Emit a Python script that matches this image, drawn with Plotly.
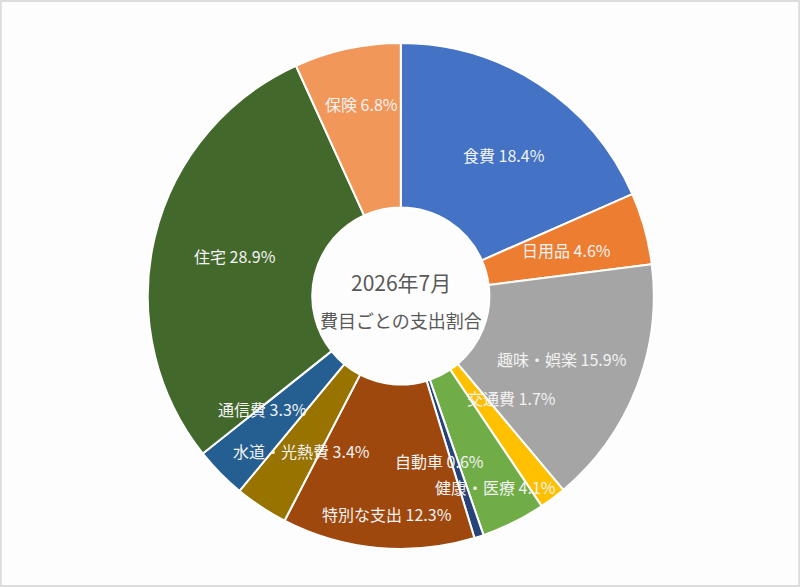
import math
import plotly.graph_objects as go

# 2026年7月 費目ごとの支出割合 (%)
categories = ["食費", "日用品", "趣味・娯楽", "交通費", "健康・医療", "自動車",
              "特別な支出", "水道・光熱費", "通信費", "住宅", "保険"]
shares = [18.4, 4.6, 15.9, 1.7, 4.1, 0.6, 12.3, 3.4, 3.3, 28.9, 6.8]
colors = ["#4472C4", "#ED7D31", "#A5A5A5", "#FFC000", "#70AD47", "#264478",
          "#9E480E", "#997300", "#255E91", "#43682B", "#F1975A"]

title_month = "2026年7月"
title_sub = "費目ごとの支出割合"

# label placement (distance from centre in px, angle nudge in degrees)
label_radius = [175, 172, 173, 151, 213, 170, 218, 184, 178, 171, 196]
label_nudge = [3, 0, 0, -10.5, 0, 4.7, -1.5, -0.7, 5.2, 0, 0.7]

FONT = "Noto Sans CJK JP"
W, H = 800, 587
TOP, BOTTOM = 43, 549  # pie outer edge in px

fig = go.Figure(go.Pie(
    labels=categories,
    values=shares,
    sort=False,
    direction="clockwise",
    hole=0.35,
    marker=dict(colors=colors, line=dict(color="white", width=2)),
    textinfo="none",
    domain=dict(x=[0.002, 1], y=[1 - BOTTOM / H, 1 - TOP / H]),
    hoverinfo="label+percent",
    showlegend=False,
))

cy = 1 - (TOP + BOTTOM) / 2 / H
cx = 0.501
total = sum(shares)
start = 0.0
for name, val, r, nudge in zip(categories, shares, label_radius, label_nudge):
    mid = (start + val / 2) / total * 360 + nudge
    start += val
    a = math.radians(mid)
    fig.add_annotation(
        x=cx, y=cy, xref="paper", yref="paper",
        xshift=r * math.sin(a), yshift=r * math.cos(a),
        text=f"{name} {val:.1f}%", showarrow=False,
        font=dict(family=FONT, size=16, color="#F2F2F2"),
    )

fig.add_annotation(x=cx, y=cy, xref="paper", yref="paper", text=title_month,
                   showarrow=False, yshift=14,
                   font=dict(family=FONT, size=21, color="#595959"))
fig.add_annotation(x=cx, y=cy, xref="paper", yref="paper", text=title_sub,
                   showarrow=False, yshift=-24,
                   font=dict(family=FONT, size=18, color="#595959"))

# thin frame around the whole picture
fig.add_shape(type="rect", xref="paper", yref="paper", x0=0.001, x1=0.999,
              y0=0.0015, y1=0.9985, line=dict(color="#DDDDDD", width=2))

fig.update_layout(
    width=W, height=H,
    margin=dict(l=0, r=0, t=0, b=0),
    paper_bgcolor="#FDFDFD",
    plot_bgcolor="#FDFDFD",
    font=dict(family=FONT),
)

fig.write_html("out.html", config={"displayModeBar": False},
               post_script="document.body.style.margin='0';")
